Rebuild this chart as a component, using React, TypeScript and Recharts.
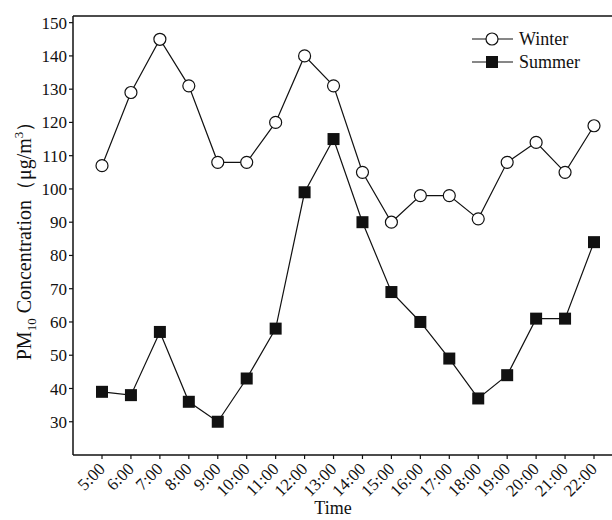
import { Line, LineChart, ReferenceLine, XAxis, YAxis } from "recharts";

const TIMES = [
  "5:00", "6:00", "7:00", "8:00", "9:00", "10:00", "11:00", "12:00", "13:00",
  "14:00", "15:00", "16:00", "17:00", "18:00", "19:00", "20:00", "21:00", "22:00",
];
const WINTER = [107, 129, 145, 131, 108, 108, 120, 140, 131, 105, 90, 98, 98, 91, 108, 114, 105, 119];
const SUMMER = [39, 38, 57, 36, 30, 43, 58, 99, 115, 90, 69, 60, 49, 37, 44, 61, 61, 84];
const Y_TICKS = [30, 40, 50, 60, 70, 80, 90, 100, 110, 120, 130, 140, 150];

const FONT = "'Liberation Serif', 'Times New Roman', serif";
const INK = "#111";

const chartData = TIMES.map((t, i) => ({ time: t, winter: WINTER[i], summer: SUMMER[i] }));

const XTick = ({ x, y, payload }: any) => (
  <text
    x={x + 4}
    y={y + 9}
    textAnchor="end"
    fontSize={17}
    fontFamily={FONT}
    fill={INK}
    transform={`rotate(-45, ${x + 4}, ${y + 9})`}
  >
    {payload.value}
  </text>
);

const SquareDot = (props: any) => {
  const { cx, cy, index } = props;
  return <rect key={`sq-${index}`} x={cx - 6} y={cy - 6} width={12} height={12} fill={INK} />;
};

const YLabel = () => (
  <text
    x={31}
    y={236}
    transform="rotate(-90, 31, 236)"
    textAnchor="middle"
    fontSize={20}
    fontFamily={FONT}
    fill={INK}
  >
    PM
    <tspan fontSize={13} dy={5}>10</tspan>
    <tspan dy={-5}> Concentration（μg/m</tspan>
    <tspan fontSize={13} dy={-8}>3</tspan>
    <tspan dy={8}>）</tspan>
  </text>
);

const TimeLabel = () => (
  <text x={333} y={514} textAnchor="middle" fontSize={18} fontFamily={FONT} fill={INK}>
    Time
  </text>
);

const LegendBox = () => (
  <svg width={120} height={50} style={{ overflow: "visible" }}>
    <line x1={2} y1={12} x2={43} y2={12} stroke={INK} strokeWidth={1.2} />
    <circle cx={22} cy={12} r={6} fill="#fff" stroke={INK} strokeWidth={1.2} />
    <text x={49} y={18} fontSize={18} fontFamily={FONT} fill={INK}>Winter</text>
    <line x1={2} y1={35} x2={43} y2={35} stroke={INK} strokeWidth={1.2} />
    <rect x={16} y={29} width={12} height={12} fill={INK} />
    <text x={49} y={41} fontSize={18} fontFamily={FONT} fill={INK}>Summer</text>
  </svg>
);

export default function App() {
  return (
    <div
      style={{
        position: "absolute",
        left: 0,
        top: 0,
        width: 612,
        height: 520,
        overflow: "hidden",
        background: "#fff",
      }}
    >
      <LineChart
        width={640}
        height={520}
        data={chartData}
        margin={{ top: 16, right: 17, left: 0, bottom: 0 }}
      >
        <XAxis
          dataKey="time"
          interval={0}
          padding={{ left: 29, right: 29 }}
          height={65}
          tick={<XTick />}
          tickSize={4}
          axisLine={{ stroke: INK, strokeWidth: 1.5 }}
          tickLine={{ stroke: INK, strokeWidth: 1.2 }}
          label={{ content: () => <TimeLabel /> }}
        />
        <YAxis
          type="number"
          domain={[20, 152]}
          ticks={Y_TICKS}
          interval={0}
          width={73}
          tickSize={4}
          tick={{ fontSize: 17, fontFamily: FONT, fill: INK }}
          axisLine={{ stroke: INK, strokeWidth: 1.5 }}
          tickLine={{ stroke: INK, strokeWidth: 1.2 }}
          label={{ content: () => <YLabel /> }}
        />
        <ReferenceLine y={152} stroke={INK} strokeWidth={1.5} />
        <Line
          dataKey="summer"
          name="Summer"
          stroke={INK}
          strokeWidth={1.2}
          dot={SquareDot}
          isAnimationActive={false}
        />
        <Line
          dataKey="winter"
          name="Winter"
          stroke={INK}
          strokeWidth={1.2}
          dot={{ r: 6, fill: "#fff", stroke: INK, strokeWidth: 1.2 }}
          isAnimationActive={false}
        />
      </LineChart>
      <div style={{ position: "absolute", left: 470, top: 27 }}>
        <LegendBox />
      </div>
    </div>
  );
}
